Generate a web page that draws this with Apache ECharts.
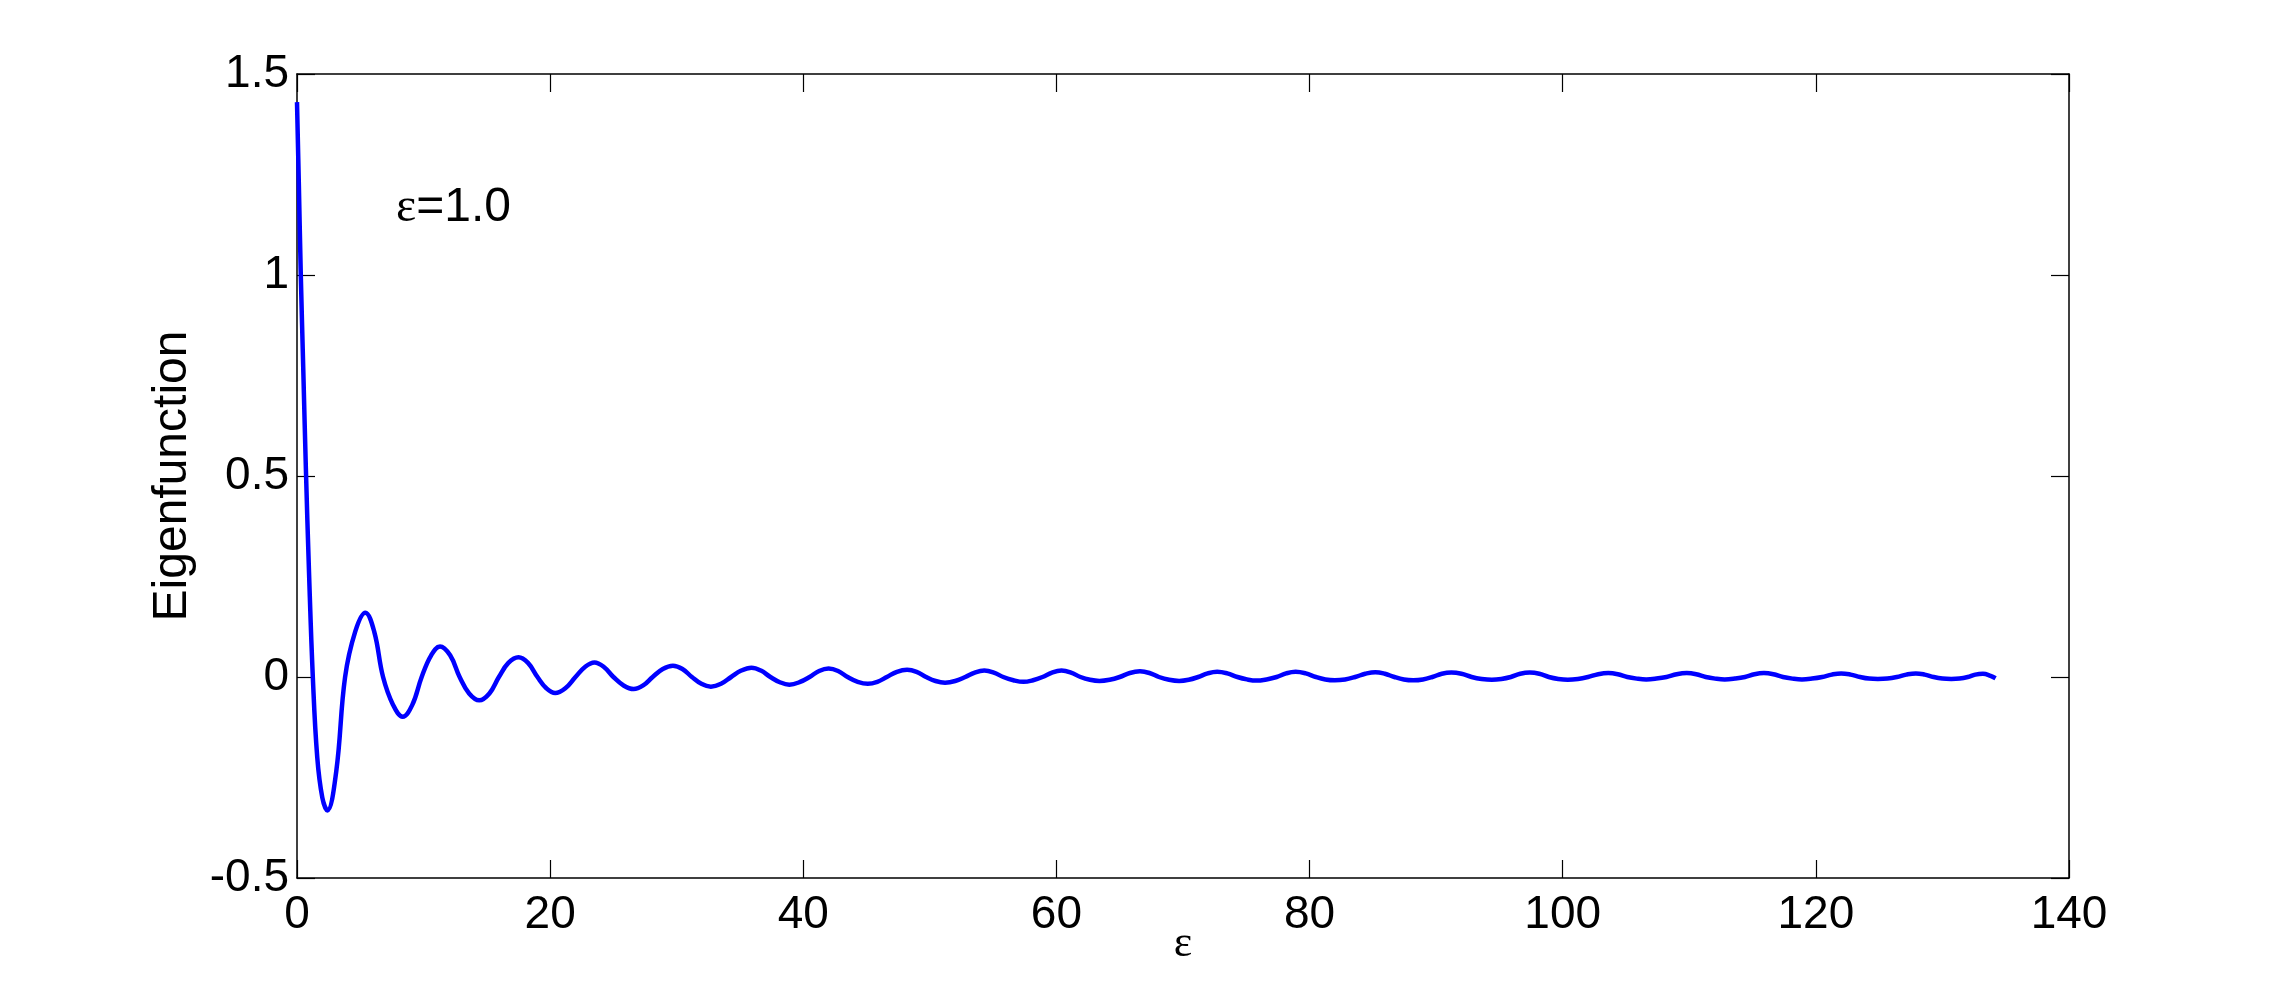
<!DOCTYPE html>
<html>
<head>
<meta charset="utf-8">
<title>Eigenfunction</title>
<script src="https://cdn.jsdelivr.net/npm/echarts@6/dist/echarts.min.js"></script>
<style>
  html, body { margin: 0; padding: 0; background: #fff; }
  #chart { width: 2286px; height: 986px; }
</style>
</head>
<body>
<div id="chart"></div>
<script>
// x values (ε)
const epsValues = [
  0, 0.15, 0.3, 0.5, 0.7, 0.95, 1.25, 1.6, 2.0, 2.4, 3.1, 3.8, 4.6, 5.4, 6.1,
  6.8, 7.6, 8.35, 9.1, 9.85, 10.6, 11.3, 12.1, 12.85, 13.6, 14.4, 15.2, 15.95, 16.7, 17.5,
  18.25, 19.0, 19.7, 20.4,
  21.2, 22.0, 22.75, 23.5,
  24.25, 25.0, 25.8, 26.6,
  27.35, 28.1, 28.9, 29.7,
  30.45, 31.2, 31.95, 32.7,
  33.5, 34.3, 35.1, 35.9,
  36.65, 37.4, 38.15, 38.9,
  39.7, 40.5, 41.25, 42.0,
  42.75, 43.5, 44.3, 45.1,
  45.85, 46.6, 47.4, 48.2,
  48.95, 49.7, 50.45, 51.2,
  52.0, 52.8, 53.55, 54.3,
  55.05, 55.8, 56.6, 57.4,
  58.15, 58.9, 59.65, 60.4,
  61.15, 61.9, 62.65, 63.4,
  64.2, 65.0, 65.8, 66.6,
  67.35, 68.1, 68.9, 69.7,
  70.45, 71.2, 71.95, 72.7,
  73.5, 74.3, 75.05, 75.8,
  76.6, 77.4, 78.15, 78.9,
  79.7, 80.5, 81.25, 82.0,
  82.8, 83.6, 84.4, 85.2,
  85.95, 86.7, 87.45, 88.2,
  88.95, 89.7, 90.45, 91.2,
  92.0, 92.8, 93.6, 94.4,
  95.15, 95.9, 96.65, 97.4,
  98.15, 98.9, 99.65, 100.4,
  101.2, 102.0, 102.8, 103.6,
  104.35, 105.1, 105.85, 106.6,
  107.4, 108.2, 109.0, 109.8,
  110.55, 111.3, 112.05, 112.8,
  113.6, 114.4, 115.15, 115.9,
  116.65, 117.4, 118.15, 118.9,
  119.7, 120.5, 121.25, 122.0,
  122.75, 123.5, 124.2, 124.9,
  125.65, 126.4, 127.15, 127.9,
  128.6, 129.3, 130.0, 130.7,
  131.35, 132.0, 132.6, 133.2,
  133.8, 134.2
];

// eigenfunction values at those points
const eigenValues = [
  1.43, 1.22, 1.0, 0.76, 0.52, 0.26, 0, -0.2, -0.3, -0.332, -0.235, 0, 0.113, 0.16, 0.113,
  0, -0.07, -0.099, -0.07, 0, 0.054, 0.076, 0.054, 0, -0.041, -0.058, -0.041, 0, 0.035, 0.049,
  0.035, 0, -0.028, -0.040,
  -0.028, 0, 0.025, 0.036,
  0.025, 0, -0.021, -0.030,
  -0.021, 0, 0.020, 0.028,
  0.020, 0, -0.017, -0.024,
  -0.017, 0, 0.016, 0.023,
  0.016, 0, -0.013, -0.019,
  -0.013, 0, 0.015, 0.021,
  0.015, 0, -0.012, -0.017,
  -0.012, 0, 0.013, 0.018,
  0.013, 0, -0.010, -0.014,
  -0.010, 0, 0.011, 0.016,
  0.011, 0, -0.008, -0.012,
  -0.008, 0, 0.011, 0.016,
  0.011, 0, -0.007, -0.010,
  -0.007, 0, 0.010, 0.014,
  0.010, 0, -0.007, -0.010,
  -0.007, 0, 0.009, 0.013,
  0.009, 0, -0.006, -0.009,
  -0.006, 0, 0.009, 0.013,
  0.009, 0, -0.006, -0.008,
  -0.006, 0, 0.008, 0.012,
  0.008, 0, -0.006, -0.008,
  -0.006, 0, 0.008, 0.011,
  0.008, 0, -0.005, -0.007,
  -0.005, 0, 0.008, 0.011,
  0.008, 0, -0.005, -0.007,
  -0.005, 0, 0.007, 0.010,
  0.007, 0, -0.004, -0.006,
  -0.004, 0, 0.007, 0.010,
  0.007, 0, -0.004, -0.006,
  -0.004, 0, 0.007, 0.010,
  0.007, 0, -0.004, -0.006,
  -0.004, 0, 0.006, 0.009,
  0.006, 0, -0.004, -0.005,
  -0.004, 0, 0.006, 0.009,
  0.006, 0, -0.004, -0.005,
  -0.004, 0, 0.006, 0.008,
  0.003, -0.003
];

const xTicks = [0, 140, 20];      // min, max, step
const yTicks = [-0.5, 1.5, 0.5];  // min, max, step

const sans = 'Liberation Sans';
const serif = 'Liberation Serif';

const chart = echarts.init(document.getElementById('chart'));

const boxAxisLine = { show: true, onZero: false, lineStyle: { color: '#000', width: 1.5 } };
const boxTick = { show: true, inside: true, length: 18, lineStyle: { color: '#000', width: 1.2 } };

const option = {
  animation: false,
  backgroundColor: '#fff',
  title: {
    text: '{e|ε}=1.0',
    left: 391,
    top: 179,
    textStyle: {
      fontFamily: sans,
      fontSize: 48,
      fontWeight: 'normal',
      color: '#000',
      rich: {
        e: { fontFamily: serif, fontSize: 48, color: '#000' }
      }
    }
  },
  grid: { left: 297, right: 217, top: 74, bottom: 108 },
  xAxis: [
    {
      type: 'value',
      min: xTicks[0], max: xTicks[1], interval: xTicks[2],
      position: 'bottom',
      name: 'ε',
      nameLocation: 'middle',
      nameGap: 44,
      nameMoveOverlap: false,
      nameTextStyle: { fontFamily: serif, fontSize: 44, color: '#000' },
      axisLine: boxAxisLine,
      axisTick: boxTick,
      axisLabel: { fontFamily: sans, fontSize: 46, color: '#000', margin: 14 },
      splitLine: { show: false }
    },
    {
      type: 'value',
      min: xTicks[0], max: xTicks[1], interval: xTicks[2],
      position: 'top',
      axisLine: boxAxisLine,
      axisTick: boxTick,
      axisLabel: { show: false },
      splitLine: { show: false }
    }
  ],
  yAxis: [
    {
      type: 'value',
      min: yTicks[0], max: yTicks[1], interval: yTicks[2],
      position: 'left',
      name: 'Eigenfunction',
      nameLocation: 'middle',
      nameGap: 100,
      nameTextStyle: { fontFamily: sans, fontSize: 48, color: '#000' },
      axisLine: boxAxisLine,
      axisTick: boxTick,
      axisLabel: { fontFamily: sans, fontSize: 46, color: '#000', margin: 8 },
      splitLine: { show: false }
    },
    {
      type: 'value',
      min: yTicks[0], max: yTicks[1], interval: yTicks[2],
      position: 'right',
      axisLine: boxAxisLine,
      axisTick: boxTick,
      axisLabel: { show: false },
      splitLine: { show: false }
    }
  ],
  series: [
    {
      type: 'line',
      data: epsValues.map((x, i) => [x, eigenValues[i]]),
      smooth: 0.4,
      showSymbol: false,
      lineStyle: { color: '#0000ff', width: 4.5 },
      clip: true
    }
  ]
};

chart.setOption(option);
</script>
</body>
</html>
